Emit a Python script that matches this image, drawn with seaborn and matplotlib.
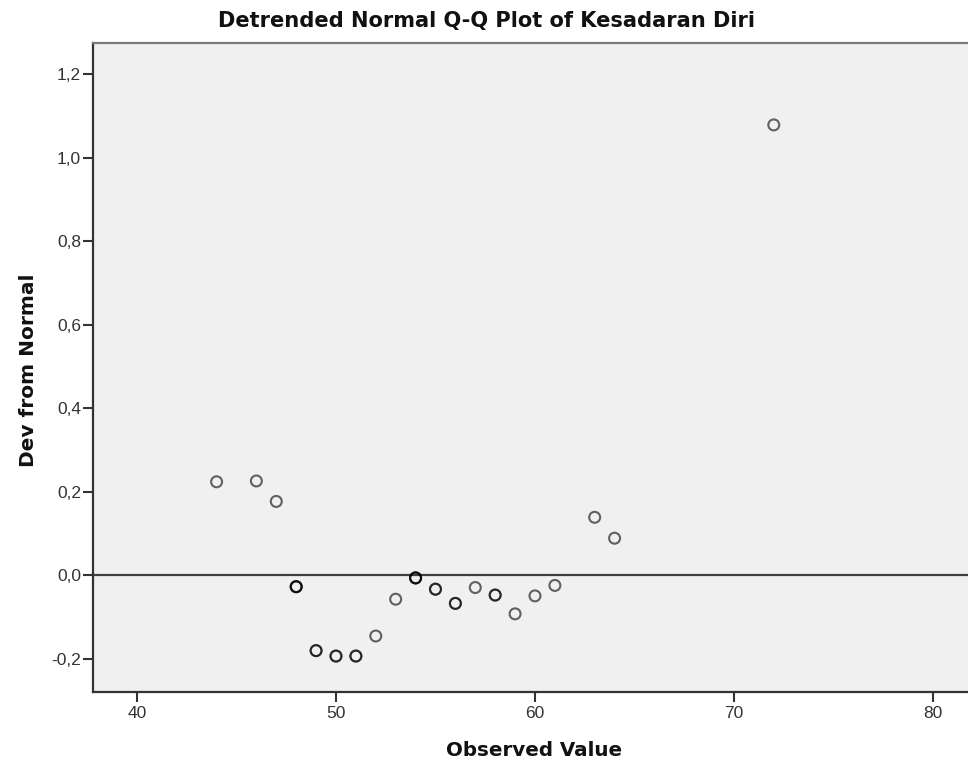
import matplotlib
matplotlib.use("Agg")
import matplotlib.pyplot as plt
import seaborn as sns
import pandas as pd
from matplotlib.ticker import FuncFormatter

observed = [44, 46, 47, 48, 49, 50, 51, 52, 53, 54, 55, 56, 57, 58, 59, 60, 61, 63, 64, 72]
deviation = [0.224, 0.226, 0.177, -0.027, -0.180, -0.193, -0.193, -0.145, -0.057, -0.006,
             -0.033, -0.067, -0.029, -0.047, -0.092, -0.049, -0.024, 0.139, 0.089, 1.078]
counts = [1, 1, 1, 3, 2, 2, 2, 1, 1, 3, 2, 2, 1, 2, 1, 1, 1, 1, 1, 1]
x_ticks = [40, 50, 60, 70, 80]
y_ticks = [-0.2, 0.0, 0.2, 0.4, 0.6, 0.8, 1.0, 1.2]

rows = []
for o, d, c in zip(observed, deviation, counts):
    rows += [(o, d)] * c
df = pd.DataFrame(rows, columns=["Observed Value", "Dev from Normal"])

sns.set_style("white")
plt.rcParams['font.family'] = ['Liberation Sans', 'DejaVu Sans']

W, H = 968, 767
L, R, T, B = 93, 968, 43, 692
fig = plt.figure(figsize=(W / 100, H / 100), dpi=100)
ax = fig.add_axes([L / W, 1 - B / H, (R - L) / W, (B - T) / H])
ax.set_facecolor("#F0F0F0")

ax.axhline(0, color="#404040", lw=1.6, zorder=1)
sns.scatterplot(data=df, x="Observed Value", y="Dev from Normal", ax=ax,
                marker="o", s=62, facecolors="none", edgecolor="#000000",
                linewidth=1.5, alpha=0.6, zorder=3)

ax.set_xlim(37.79, 81.76)
ax.set_ylim(-0.279, 1.274)
ax.set_xticks(x_ticks)
ax.set_yticks(y_ticks)
ax.yaxis.set_major_formatter(FuncFormatter(lambda v, p: f"{v:.1f}".replace(".", ",").replace("-0,0", "0,0")))
ax.xaxis.set_major_formatter(FuncFormatter(lambda v, p: f"{v:.0f}"))
ax.tick_params(axis="both", direction="out", length=7, width=1.5, color="#333333",
               labelsize=12.5, labelcolor="#333333", bottom=True, left=True)
ax.tick_params(axis="y", pad=1.5)
ax.tick_params(axis="x", pad=3)

for side in ["left", "bottom"]:
    ax.spines[side].set_color("#333333")
    ax.spines[side].set_linewidth(1.6)
ax.spines["top"].set_color("#7a7a7a")
ax.spines["top"].set_linewidth(1.6)
ax.spines["right"].set_visible(False)

ax.set_xlabel("Observed Value", fontsize=14.3, fontweight="bold", color="#111111",
              family="DejaVu Sans", va="center", ha="center")
ax.xaxis.set_label_coords((534.5 - L) / (R - L), (B - 751) / (B - T))
ax.set_ylabel("Dev from Normal", fontsize=14.5, fontweight="bold", color="#111111",
              family="DejaVu Sans", va="center", ha="center")
ax.yaxis.set_label_coords((29 - L) / (R - L), (B - 370) / (B - T))
fig.text(487 / W, 1 - 21 / H, "Detrended Normal Q-Q Plot of Kesadaran Diri",
         ha="center", va="center", fontsize=15.1, fontweight="bold", color="#111111",
         family="DejaVu Sans")

fig.savefig("out.png", dpi=100, facecolor="white")
